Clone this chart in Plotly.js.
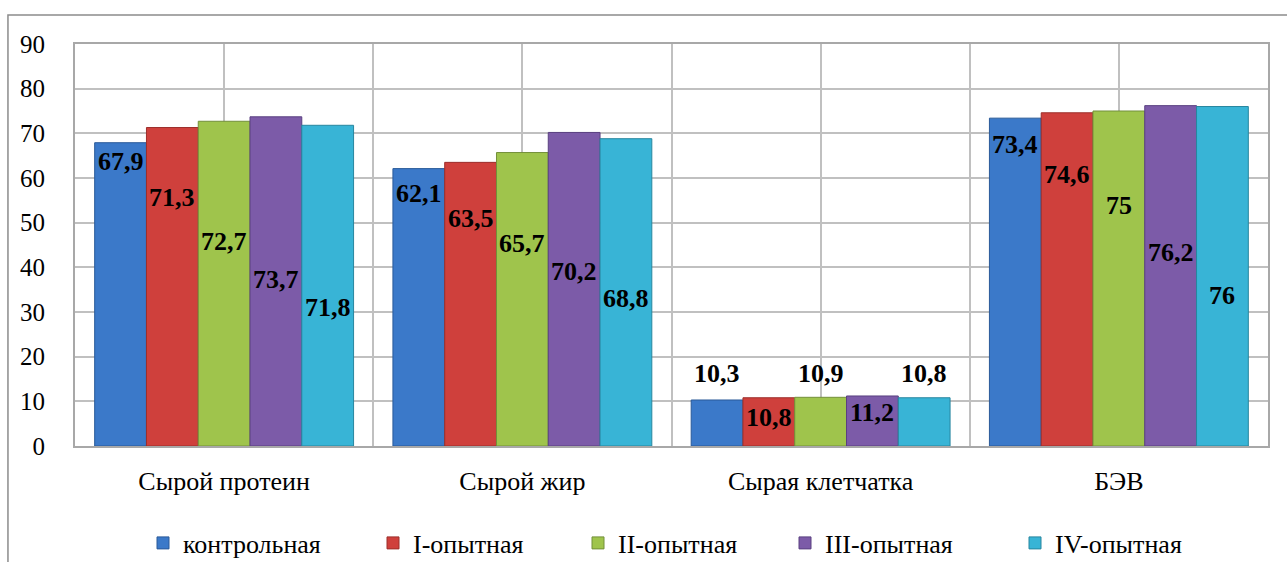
<!DOCTYPE html>
<html>
<head>
<meta charset="utf-8">
<script src="https://cdn.plot.ly/plotly-3.0.1.min.js"></script>
<style>
  html, body { margin: 0; padding: 0; background: #ffffff; }
  #chart { width: 1287px; height: 562px; }
</style>
</head>
<body>
<div id="chart"></div>
<script>
// Nutrient digestibility by group
const categories = ['Сырой протеин', 'Сырой жир', 'Сырая клетчатка', 'БЭВ'];
const seriesNames = ['контрольная', 'I-опытная', 'II-опытная', 'III-опытная', 'IV-опытная'];
const control = [67.9, 62.1, 10.3, 73.4];
const group1 = [71.3, 63.5, 10.8, 74.6];
const group2 = [72.7, 65.7, 10.9, 75];
const group3 = [73.7, 70.2, 11.2, 76.2];
const group4 = [71.8, 68.8, 10.8, 76];
const yTicks = [0, 10, 20, 30, 40, 50, 60, 70, 80, 90];

const seriesValues = [control, group1, group2, group3, group4];
const colors = ['#3b79c9', '#cf403c', '#9fc44c', '#7c5ba8', '#38b4d6'];
const edges = ['#2a5a99', '#9c2e2b', '#73903a', '#5a4080', '#27869f'];

const SERIF = 'Liberation Serif';
const W = 1287, H = 562;

// vertical placement of each value label (axis units), staggered like a staircase
const labelLevels = [
  [63.6, 56.6, 16.3, 67.4],
  [55.7, 51.0, 6.3, 60.7],
  [45.7, 45.4, 16.3, 53.9],
  [37.2, 39.0, 7.6, 43.4],
  [30.9, 33.1, 16.3, 33.8]
];

// left edge (px) of each legend entry along the bottom row
const legendLeft = [143, 373, 578, 785, 1015];

const bargap = 0.132;
const nSeries = seriesValues.length;
const barW = (1 - bargap) / nSeries;
const catIdx = categories.map((_, i) => i);
const legendId = s => (s === 0 ? 'legend' : 'legend' + (s + 1));

const traces = seriesValues.map((vals, s) => ({
  type: 'bar',
  name: seriesNames[s],
  legend: legendId(s),
  x: catIdx,
  y: vals,
  marker: { color: colors[s], line: { color: edges[s], width: 1 } },
  hoverinfo: 'y+name'
}));

const fmt = v => String(v).replace('.', ',');

const annotations = [];
seriesValues.forEach((vals, s) => {
  vals.forEach((v, c) => {
    annotations.push({
      x: c + (s - (nSeries - 1) / 2) * barW,
      y: labelLevels[s][c],
      xref: 'x', yref: 'y',
      text: '<b>' + fmt(v) + '</b>',
      showarrow: false,
      font: { family: SERIF, size: 26, color: '#000000' }
    });
  });
});

// grid lines at category centres and boundaries
const xTickVals = [];
const xTickText = [];
for (let i = -0.5; i <= categories.length - 0.5 + 1e-9; i += 0.5) {
  xTickVals.push(i);
  xTickText.push(Number.isInteger(i) ? categories[i] : '');
}

const layout = {
  width: W,
  height: H,
  paper_bgcolor: '#ffffff',
  plot_bgcolor: '#ffffff',
  margin: { l: 75, r: 19, t: 44, b: 116, autoexpand: false },
  barmode: 'group',
  bargap: bargap,
  bargroupgap: 0,
  font: { family: SERIF, size: 24, color: '#000000' },
  xaxis: {
    type: 'linear',
    range: [-0.5, categories.length - 0.5],
    tickmode: 'array',
    tickvals: xTickVals,
    ticktext: xTickText,
    showgrid: true,
    gridcolor: '#c0c0c0',
    gridwidth: 2,
    zeroline: false,
    showline: true,
    linecolor: '#a8a8a8',
    linewidth: 2,
    mirror: true,
    ticks: '',
    ticklen: 0,
    ticklabelstandoff: 11,
    automargin: false,
    tickfont: { family: SERIF, size: 26, color: '#000000' },
    fixedrange: true
  },
  yaxis: {
    range: [0, 90],
    tickmode: 'array',
    tickvals: yTicks,
    ticktext: yTicks.map(String),
    showgrid: true,
    gridcolor: '#c0c0c0',
    gridwidth: 2,
    zeroline: false,
    showline: true,
    linecolor: '#a8a8a8',
    linewidth: 2,
    mirror: true,
    ticks: '',
    ticklabelstandoff: 23,
    automargin: false,
    tickfont: { family: SERIF, size: 25, color: '#000000' },
    fixedrange: true
  },
  annotations: annotations,
  shapes: [
    {
      type: 'rect',
      xref: 'paper', yref: 'paper',
      x0: -0.0562, x1: 1.2, y0: -0.5, y1: 1.072,
      line: { color: '#8c8c8c', width: 1.5 },
      fillcolor: 'rgba(0,0,0,0)',
      layer: 'below'
    }
  ],
  showlegend: true
};

// one single-entry legend per series, laid out in a row below the axis
seriesValues.forEach((_, s) => {
  layout[legendId(s)] = {
    orientation: 'h',
    xref: 'container',
    x: legendLeft[s] / W,
    xanchor: 'left',
    yref: 'container',
    y: 19 / H,
    yanchor: 'middle',
    bgcolor: 'rgba(0,0,0,0)',
    font: { family: SERIF, size: 26, color: '#000000' },
    itemwidth: 30
  };
});

Plotly.newPlot('chart', traces, layout, { displayModeBar: false, staticPlot: true });
</script>
</body>
</html>
